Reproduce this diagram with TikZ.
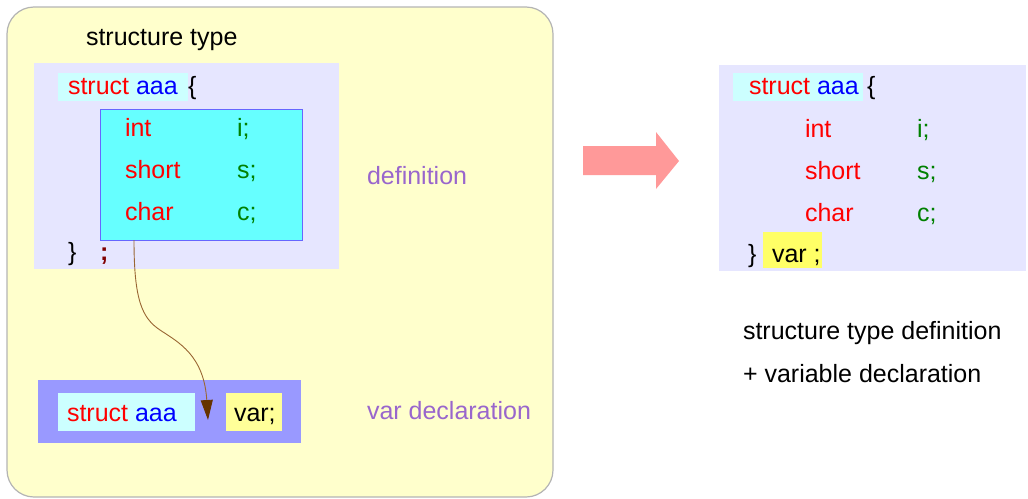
\documentclass[tikz,border=0pt]{standalone}
\usepackage{fontspec}
\setmainfont{Liberation Sans}
\usetikzlibrary{arrows.meta}
\definecolor{panelbg}{HTML}{FFFFCC}
\definecolor{panelline}{HTML}{B4B4B4}
\definecolor{codebg}{HTML}{E6E6FF}
\definecolor{namebg}{HTML}{CCFFFF}
\definecolor{fieldbg}{HTML}{66FFFF}
\definecolor{fieldline}{HTML}{6666FF}
\definecolor{declbg}{HTML}{9999FF}
\definecolor{varbg}{HTML}{FFFF99}
\definecolor{varbgb}{HTML}{FFFF66}
\definecolor{kwred}{HTML}{FF0000}
\definecolor{tyblue}{HTML}{0000FF}
\definecolor{idgreen}{HTML}{008000}
\definecolor{semired}{HTML}{800000}
\definecolor{notepurple}{HTML}{9966CC}
\definecolor{bigarrow}{HTML}{FF9999}
\definecolor{linkline}{HTML}{996633}
\definecolor{linkhead}{HTML}{663300}
\tikzset{
  box/.style={draw=none, inner sep=0pt, outer sep=0pt, anchor=north west},
  txt/.style={inner sep=0pt, outer sep=0pt, anchor=base west, font=\fontsize{25}{29}\selectfont},
  kwtext/.style={text=kwred},
  idtext/.style={text=idgreen},
  notetext/.style={text=notepurple},
}
\begin{document}
\begin{tikzpicture}[x=1pt,y=-1pt]
\useasboundingbox (0,0) rectangle (1028,498);

% left panel: type definition and separate variable declaration
\draw[panelline, fill=panelbg, line width=1.2pt, rounded corners=27pt] (7,7) rectangle (553,497);
\node[txt] (title) at (86,45) {structure type};

\node[box, fill=codebg, minimum width=305pt, minimum height=206pt] (defblk) at (34,63) {};
\node[box, fill=namebg, minimum width=130pt, minimum height=28pt] (namehl) at (58,73) {};
\node[txt] (head) at (68,94) {\textcolor{kwred}{struct} \textcolor{tyblue}{aaa}};
\node[txt] (lbrace) at (188,94) {\{};
\node[box, fill=fieldbg, draw=fieldline, line width=0.8pt, minimum width=202pt, minimum height=131pt] (fields) at (100,109) {};
\node[txt, kwtext] (tint) at (125,136) {int};
\node[txt, idtext] (vi) at (237,136) {i;};
\node[txt, kwtext] (tshort) at (125,178) {short};
\node[txt, idtext] (vs) at (237,178) {s;};
\node[txt, kwtext] (tchar) at (125,220) {char};
\node[txt, idtext] (vc) at (237,220) {c;};
\node[txt] (rbrace) at (68,260) {\}};
\node[txt, text=semired] (semi) at (100,260) {\textbf{;}};
\node[txt, notetext] (defnote) at (367,184) {definition};

\node[box, fill=declbg, minimum width=263pt, minimum height=63pt] (declblk) at (38,380) {};
\node[box, fill=namebg, minimum width=137pt, minimum height=38pt] (declname) at (58,393) {};
\node[txt] (declhead) at (67,421) {\textcolor{kwred}{struct} \textcolor{tyblue}{aaa}};
\node[box, fill=varbg, minimum width=56pt, minimum height=38pt] (declvar) at (226,393) {};
\node[txt] (declvartxt) at (234,421) {var;};
\node[txt, notetext] (declnote) at (367,419) {var declaration};

% link from the member block down to the declaration
\coordinate (linkend) at (208,420);
\draw[linkline, line width=0.9pt, -{Triangle[length=20pt, width=12pt, color=linkhead]}]
  ([xshift=-67pt]fields.south) .. controls (134,300) and (142,318) .. (160,330)
  .. controls (178,342) and (204,355) .. (linkend);

% big arrow
\fill[bigarrow] (583,146) -- (656,146) -- (656,132) -- (679,161) -- (656,189) -- (656,175) -- (583,175) -- cycle;

% right panel: combined definition and declaration
\node[box, fill=codebg, minimum width=307pt, minimum height=206pt] (combblk) at (719,65) {};
\node[box, fill=namebg, minimum width=130pt, minimum height=28pt] (combname) at (733,73) {};
\node[txt] (combhead) at (749,94) {\textcolor{kwred}{struct} \textcolor{tyblue}{aaa}};
\node[txt] (comblbrace) at (867,94) {\{};
\node[txt, kwtext] (cint) at (805,137) {int};
\node[txt, idtext] (ci) at (917,137) {i;};
\node[txt, kwtext] (cshort) at (805,179) {short};
\node[txt, idtext] (cs) at (917,179) {s;};
\node[txt, kwtext] (cchar) at (805,221) {char};
\node[txt, idtext] (cc) at (917,221) {c;};
\node[box, fill=varbgb, minimum width=59pt, minimum height=36pt] (combvar) at (763,232) {};
\node[txt] (combrbrace) at (748,262) {\}};
\node[txt] (combvartxt) at (772,262) {var ;};

\node[txt] (cap1) at (743,339) {structure type definition};
\node[txt] (cap2) at (743,382) {+ variable declaration};
\end{tikzpicture}
\end{document}
